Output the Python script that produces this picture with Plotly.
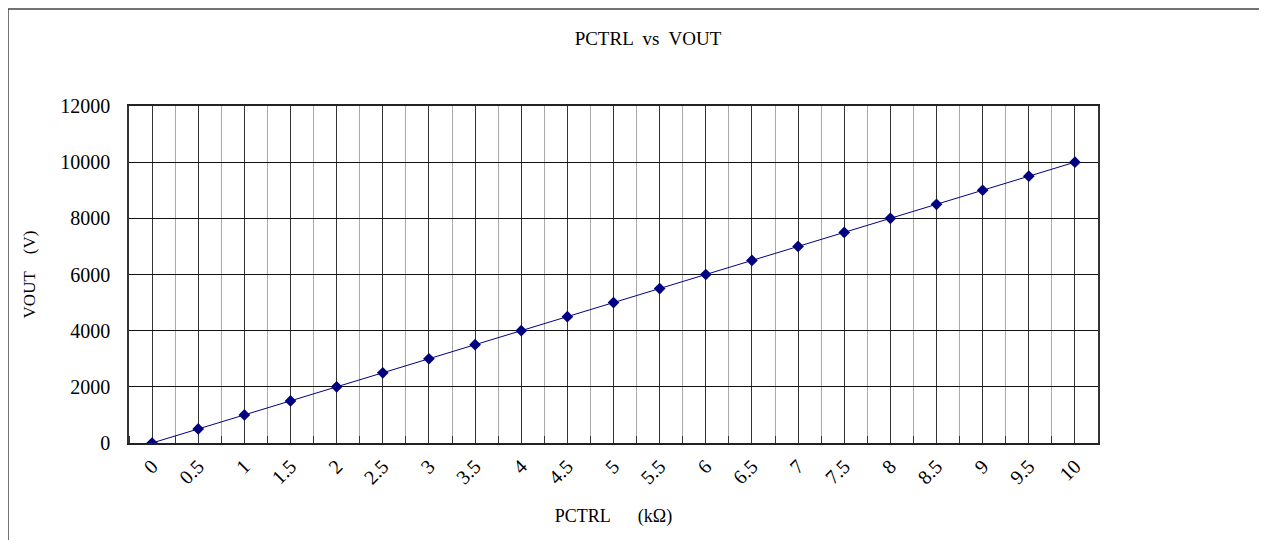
import plotly.graph_objects as go

pctrl = [0, 0.5, 1, 1.5, 2, 2.5, 3, 3.5, 4, 4.5, 5, 5.5, 6, 6.5, 7, 7.5, 8, 8.5, 9, 9.5, 10]
vout = [0, 500, 1000, 1500, 2000, 2500, 3000, 3500, 4000, 4500, 5000, 5500, 6000, 6500, 7000, 7500, 8000, 8500, 9000, 9500, 10000]

# page body adds an 8px offset; size/margins compensate for it
W, H = 1259, 532
L, T = 121, 98
pw, ph = 969, 337
R = W - L - pw
B = H - T - ph
FONT = "Liberation Serif"

fig = go.Figure()
fig.add_trace(go.Scatter(
    x=pctrl, y=vout, mode="lines+markers",
    line=dict(color="#000080", width=1),
    marker=dict(symbol="diamond", size=9, color="#000080"),
    showlegend=False,
))

fig.update_layout(
    width=W, height=H,
    margin=dict(l=L, r=R, t=T, b=B, autoexpand=False),
    paper_bgcolor="white", plot_bgcolor="white",
    font=dict(family=FONT, size=18, color="#000000"),
    title=dict(text="PCTRL  vs  VOUT", x=(640) / W, xanchor="center",
               y=1 - 30 / H, yanchor="middle", font=dict(family=FONT, size=19)),
    xaxis=dict(
        range=[-0.25, 10.25], tick0=0, dtick=0.5,
        showgrid=True, gridcolor="#333333", gridwidth=1,
        tickangle=-45, ticks="", ticklabelstandoff=2,
        tickfont=dict(family=FONT, size=20),
        showline=True, linecolor="#222222", linewidth=1.5, mirror=True,
        zeroline=False, automargin=False,
        minor=dict(tick0=0.25, dtick=0.5, showgrid=True, gridcolor="#aaaaaa", gridwidth=1,
                   ticks="inside", ticklen=7, tickcolor="#333333"),
        title=dict(text="PCTRL&nbsp;&nbsp;&nbsp;&nbsp;&nbsp;&nbsp;(k\u03a9)", standoff=22,
                   font=dict(family=FONT, size=18)),
    ),
    yaxis=dict(
        range=[0, 12000], dtick=2000, tickformat="d",
        showgrid=True, gridcolor="#111111", gridwidth=1,
        ticks="", ticklabelstandoff=13,
        tickfont=dict(family=FONT, size=20),
        showline=True, linecolor="#333333", linewidth=1.5, mirror=True,
        zeroline=False, automargin=False,
        title=dict(text="VOUT&nbsp;&nbsp;&nbsp;&nbsp;(V)", standoff=20,
                   font=dict(family=FONT, size=17)),
    ),
)

# outer chart-area border (top and left edges visible in the crop)
x_left = (0 - L) / pw
x_far = (W + 60 - L) / pw
y_top = (H - 1 - B) / ph
y_far = -(B + 60) / ph
fig.add_shape(type="line", xref="paper", yref="paper",
              x0=x_left, x1=x_far, y0=y_top, y1=y_top,
              line=dict(color="#444444", width=1.5), layer="below")
fig.add_shape(type="line", xref="paper", yref="paper",
              x0=x_left, x1=x_left, y0=y_top, y1=y_far,
              line=dict(color="#444444", width=1.5), layer="below")

fig.write_html("out.html")
